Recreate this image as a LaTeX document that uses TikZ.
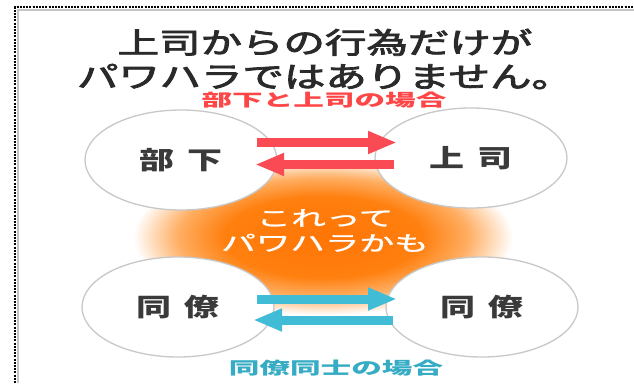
\documentclass[tikz,border=0pt]{standalone}
\usepackage{fontspec}
\setmainfont{Noto Sans CJK JP}
\newfontfamily\medfont[FakeBold=1.2]{Noto Sans CJK JP}
\newfontfamily\ttlfont[FakeBold=2.6]{Noto Sans CJK JP}
\usetikzlibrary{arrows.meta,shapes.geometric}
\definecolor{ttl}{HTML}{2A2A2A}
\definecolor{lbl}{HTML}{3A3A3A}
\definecolor{redA}{HTML}{FA4B55}
\definecolor{redT}{HTML}{FF4646}
\definecolor{tealA}{HTML}{41BCD6}
\definecolor{tealT}{HTML}{35ACC4}
\definecolor{ring}{HTML}{C8C8C8}
\definecolor{shadowgray}{HTML}{C4C4C4}
\pgfdeclareradialshading{glow}{\pgfpoint{0bp}{0bp}}{rgb(0bp)=(1,0.46,0.02); rgb(13bp)=(1,0.5,0.06); rgb(19bp)=(1,0.68,0.38); rgb(25bp)=(1,1,1); rgb(50bp)=(1,1,1)}
\begin{document}
\begin{tikzpicture}[x=1pt,y=-1pt,
  person/.style={ellipse, draw=ring, line width=1.3pt, fill=white, minimum width=192pt, minimum height=100pt, inner sep=0pt, text=lbl, font=\fontsize{25}{25}\selectfont\bfseries},
  redarrow/.style={draw=redA, line width=9pt, -{Triangle[length=29pt,width=21pt]}},
  tealarrow/.style={draw=tealA, line width=9pt, -{Triangle[length=29pt,width=21pt]}},
  caption/.style={font=\fontsize{17}{17}\selectfont\bfseries}
]
\useasboundingbox (0,0) rectangle (634,383);
\fill[white] (0,0) rectangle (634,383);
% frame
\draw[shadowgray, line width=2pt] (17.5,383) -- (17.5,9.5) -- (634,9.5);
\draw[black, line width=2pt, dash pattern=on 2pt off 1.2pt] (15,383) -- (15,7) -- (634,7);
% glow
\shade[shading=glow] (323,237) ellipse [x radius=190pt, y radius=78pt];
% people
\node[person] (bu) at (181,160) {\scalebox{1.4}[1]{部\hspace{0.4em}下}};
\node[person] (jo) at (471,158) {\scalebox{1.4}[1]{上\hspace{0.4em}司}};
\node[person] (d1) at (178,307) {\scalebox{1.4}[1]{同\hspace{0.4em}僚}};
\node[person] (d2) at (482,307) {\scalebox{1.4}[1]{同\hspace{0.4em}僚}};
% arrows
\coordinate (r1s) at (257,142.5); \coordinate (r1e) at (397,142.5);
\coordinate (r2s) at (394,164.5); \coordinate (r2e) at (255,164.5);
\coordinate (t1s) at (257,299);   \coordinate (t1e) at (397,299);
\coordinate (t2s) at (393,320);   \coordinate (t2e) at (253,320);
\draw[redarrow] (r1s) -- (r1e);
\draw[redarrow] (r2s) -- (r2e);
\draw[tealarrow] (t1s) -- (t1e);
\draw[tealarrow] (t2s) -- (t2e);
% texts
\node[font=\fontsize{29}{34}\selectfont\ttlfont, text=ttl, align=center] (title) at (325,59)
  {\scalebox{1.43}[1]{上司からの行為だけが}\\\scalebox{1.43}[1]{パワハラではありません。}};
\node[caption, text=redT] (sub1) at (324,100) {\scalebox{1.8}[1]{部下と上司の場合}};
\node[font=\fontsize{21}{25}\selectfont\medfont, text=white, align=center] (glowtxt) at (325,230.5)
  {\scalebox{1.65}[1]{これって}\\\scalebox{1.65}[1]{パワハラかも}};
\node[caption, text=tealT] (sub2) at (336,368) {\scalebox{1.8}[1]{同僚同士の場合}};
\end{tikzpicture}
\end{document}
